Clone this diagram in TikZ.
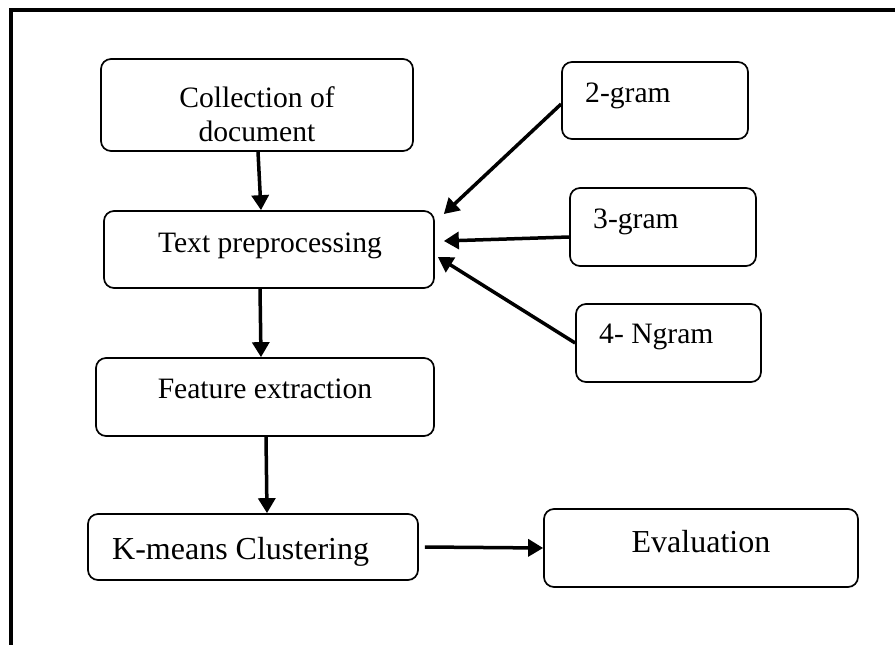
\documentclass[tikz,border=0pt]{standalone}
\usepackage{fontspec}
\setmainfont{Liberation Serif}
\usetikzlibrary{arrows.meta}
\begin{document}
\begin{tikzpicture}[x=1pt,y=-1pt,
  box/.style={draw, line width=1.7pt, rounded corners=10pt, inner sep=0pt, fill=white},
  txt/.style={inner sep=0pt, font=\fontsize{29.6}{34}\selectfont},
  txtbig/.style={inner sep=0pt, font=\fontsize{32}{36}\selectfont},
  arr/.style={line width=3.5pt, -{Triangle[length=15pt,width=17pt]}}]
\useasboundingbox (0,0) rectangle (895,645);
% frame (top and left edges only)
\draw[line width=3.5pt] (11,645) -- (11,10) -- (895,10);
% boxes
\node[box, minimum width=312pt, minimum height=92pt] (coll) at (257,105) {};
\node[box, minimum width=330pt, minimum height=77pt] (tp) at (269,249.5) {};
\node[box, minimum width=338pt, minimum height=78pt] (fe) at (265,397) {};
\node[box, minimum width=330pt, minimum height=66pt] (km) at (253,547) {};
\node[box, minimum width=314pt, minimum height=78pt] (ev) at (701,548) {};
\node[box, minimum width=186pt, minimum height=77pt] (g2) at (655,100.5) {};
\node[box, minimum width=186pt, minimum height=78pt] (g3) at (663,227) {};
\node[box, minimum width=185pt, minimum height=78pt] (g4) at (668.5,343) {};
% texts
\node[txt, anchor=base] (collt1) at (257,107) {Collection of};
\node[txt, anchor=base] (collt2) at (257,141) {document};
\node[txt, anchor=base] (tpt) at (270,252) {Text preprocessing};
\node[txt, anchor=base] (fet) at (265,398) {Feature extraction};
\node[txtbig, anchor=base west] (kmt) at (112,559) {K-means Clustering};
\node[txtbig, anchor=base] (evt) at (701,552) {Evaluation};
\node[txt, anchor=base west] (g2t) at (585,102) {2-gram};
\node[txt, anchor=base west] (g3t) at (593,228) {3-gram};
\node[txt, anchor=base west] (g4t) at (599,343) {4- Ngram};
% arrows
\draw[arr] ([xshift=1pt]coll.south) -- ([xshift=-8pt]tp.north);
\draw[arr] ([xshift=-9pt]tp.south) -- ([xshift=-4pt]fe.north);
\draw[arr] ([xshift=1pt]fe.south) -- ([xshift=14pt]km.north);
\draw[arr] ([xshift=6pt]km.east) -- (ev.west);
\draw[arr] ([yshift=-3.5pt]g2.west) -- ([xshift=9pt,yshift=35.5pt]tp.east);
\draw[arr] ([yshift=-10pt]g3.west) -- ([xshift=9pt,yshift=8.5pt]tp.east);
\draw[arr] (g4.west) -- ([xshift=3pt,yshift=-7.5pt]tp.east);
\end{tikzpicture}
\end{document}
